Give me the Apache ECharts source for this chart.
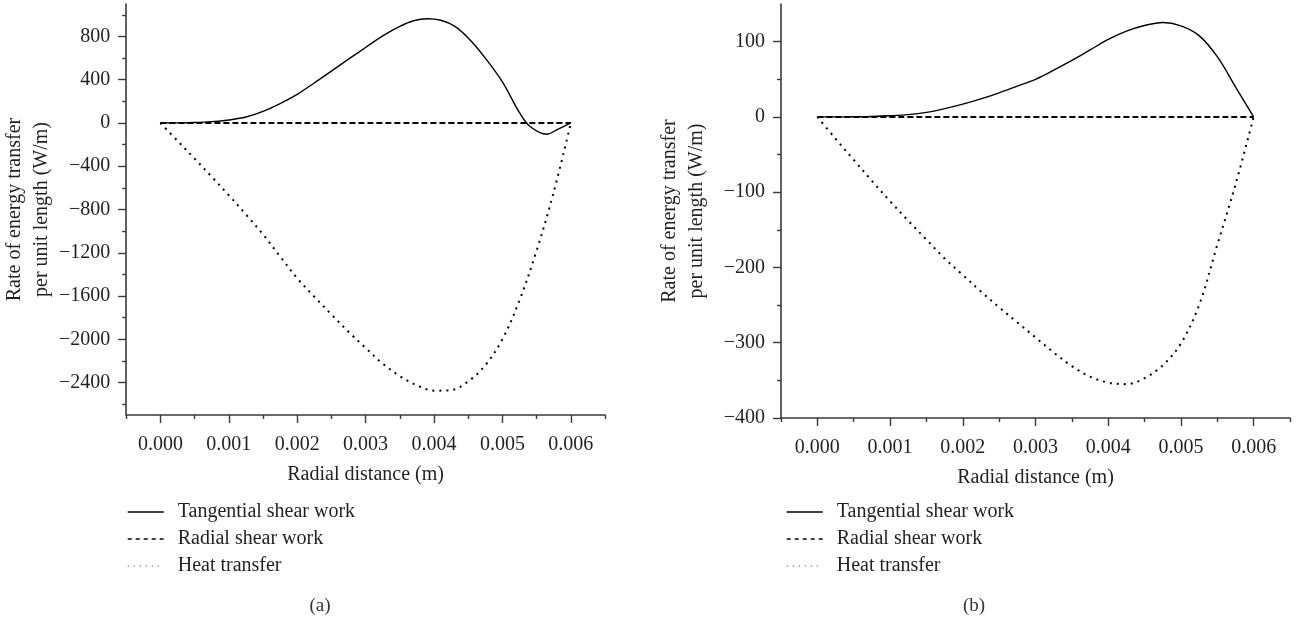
<!DOCTYPE html>
<html>
<head>
<meta charset="utf-8">
<script src="https://cdn.jsdelivr.net/npm/echarts@6/dist/echarts.min.js"></script>
<style>
html,body{margin:0;padding:0;background:#fff;}
#chart{width:1296px;height:620px;}
</style>
</head>
<body>
<div id="chart"></div>
<script>
// ---- data ----
const seriesNames = ['Tangential shear work', 'Radial shear work', 'Heat transfer'];
const xTicks = [0, 0.001, 0.002, 0.003, 0.004, 0.005, 0.006];
const xMinorTicks = [-0.0005, 0.0005, 0.0015, 0.0025, 0.0035, 0.0045, 0.0055, 0.0065];
const yTicksA = [-2400, -2000, -1600, -1200, -800, -400, 0, 400, 800];
const yMinorTicksA = [-2600, -2200, -1800, -1400, -1000, -600, -200, 200, 600, 1000];
const yTicksB = [-400, -300, -200, -100, 0, 100];
const yMinorTicksB = [-350, -250, -150, -50, 50];

// radial positions (m)
const xs = [0, 0.00025, 0.0005, 0.00075, 0.001, 0.00125, 0.0015, 0.00175, 0.002, 0.00225, 0.0025, 0.00275,
            0.003, 0.00325, 0.0035, 0.00375, 0.004, 0.00425, 0.0045, 0.00475, 0.005, 0.00525, 0.0055, 0.00575, 0.006];

// (a)
const tangAx = [0, 0.00025, 0.0005, 0.00075, 0.001, 0.00125, 0.0015, 0.00175, 0.002, 0.00225, 0.0025, 0.00275,
                0.003, 0.00325, 0.0035, 0.0037, 0.0039, 0.0041, 0.0043, 0.0045, 0.00475, 0.005, 0.00525, 0.0054, 0.00565, 0.0058, 0.006];
const tangAy = [0, 1, 4, 12, 28, 55, 108, 180, 265, 370, 480, 590,
                698, 805, 893, 945, 964, 950, 895, 785, 600, 380, 95, -30, -104, -62, 0];
const radAy  = [0, 0, 0, 0, 0, 0, 0, 0, 0, 0, 0, 0, 0, 0, 0, 0, 0, 0, 0, 0, 0, 0, 0, 0, 0];
const heatAy = [0, -165, -330, -497, -668, -845, -1030, -1235, -1435, -1606, -1770, -1930,
                -2080, -2225, -2340, -2425, -2475, -2470, -2390, -2240, -2000, -1640, -1180, -640, 0];

// (b)
const tangBy = [0, 0, 0.2, 0.6, 1.5, 3, 6, 11, 17, 24, 32, 41,
                50, 62, 75, 89, 103, 114, 121.5, 125.5, 121, 108, 80, 40, 0];
const radBy  = [0, 0, 0, 0, 0, 0, 0, 0, 0, 0, 0, 0, 0, 0, 0, 0, 0, 0, 0, 0, 0, 0, 0, 0, 0];
const heatBy = [0, -29, -57, -85, -112, -138, -163, -188, -210, -232, -253, -273,
                -293, -313, -331, -345, -353, -355, -347, -330, -301, -250, -170, -90, 0];

const pair = (xArr, yArr) => xArr.map((x, i) => [x, yArr[i]]);

// ---- styles ----
const FONT = 'Liberation Serif';
const FS = 20;
const TXT = '#231f20';
const AX = '#3a3a3a';
const fmtY = v => (v < 0 ? '\u2212' : '') + Math.abs(v);
const fmtX = v => Number(v).toFixed(3);

function xAxes(grid) {
  return [
    { type:'value', gridIndex:grid, position:'bottom', min:-0.0005, max:0.0065,
      name:'Radial distance (m)', nameLocation:'middle', nameGap:50,
      nameTextStyle:{fontFamily:FONT, fontSize:FS, color:TXT},
      axisLine:{show:true, onZero:false, lineStyle:{color:AX, width:1.6}},
      axisTick:{show:true, length:8, customValues:xTicks, lineStyle:{color:AX, width:1.4}},
      axisLabel:{customValues:xTicks, formatter:fmtX, margin:20, fontFamily:FONT, fontSize:FS, color:TXT},
      splitLine:{show:false} },
    { type:'value', gridIndex:grid, position:'bottom', min:-0.0005, max:0.0065,
      axisLine:{show:false, onZero:false},
      axisTick:{show:true, length:4, customValues:xMinorTicks, lineStyle:{color:AX, width:1.4}},
      axisLabel:{show:false}, splitLine:{show:false} }
  ];
}
function yAxes(grid, min, max, ticks, minor, gap) {
  return [
    { type:'value', gridIndex:grid, position:'left', min:min, max:max,
      name:'Rate of energy transfer\nper unit length (W/m)', nameLocation:'middle', nameGap:gap, nameRotate:90,
      nameTextStyle:{fontFamily:FONT, fontSize:FS, color:TXT, lineHeight:27},
      axisLine:{show:true, onZero:false, lineStyle:{color:AX, width:1.6}},
      axisTick:{show:true, length:8, customValues:ticks, lineStyle:{color:AX, width:1.4}},
      axisLabel:{customValues:ticks, formatter:fmtY, margin:16, fontFamily:FONT, fontSize:FS, color:TXT},
      splitLine:{show:false} },
    { type:'value', gridIndex:grid, position:'left', min:min, max:max,
      axisLine:{show:false, onZero:false},
      axisTick:{show:true, length:4, customValues:minor, lineStyle:{color:AX, width:1.4}},
      axisLabel:{show:false}, splitLine:{show:false} }
  ];
}

const solid = {color:'#000', width:1.4, type:'solid'};
const dashed = {color:'#000', width:2, type:[6,3]};
const dotted = {color:'#000', width:2, type:[2,5], cap:'butt'};

function mkSeries(name, data, xi, yi, ls) {
  return { type:'line', name:name, data:data, xAxisIndex:xi, yAxisIndex:yi,
    symbol:'none', showSymbol:false, smooth:0.35, lineStyle:ls, itemStyle:{color:'#000'},
    silent:true, animation:false, z:3 };
}

const hideSym = {color:'rgba(0,0,0,0)', borderWidth:0, opacity:0};
function legend(left) {
  return { left:left, top:502, padding:0, orient:'vertical', itemWidth:36, itemHeight:12, itemGap:7,
    selectedMode:false,
    textStyle:{fontFamily:FONT, fontSize:FS, color:TXT, lineHeight:20, padding:[0,0,0,9]},
    data:[
      {name:seriesNames[0], itemStyle:hideSym, lineStyle:{color:'#000', width:1.4, type:'solid'}},
      {name:seriesNames[1], itemStyle:hideSym, lineStyle:{color:'#000', width:1.3, type:[4,4]}},
      {name:seriesNames[2], itemStyle:hideSym, lineStyle:{color:'#555', width:1.2, type:[1.2,4.8]}}
    ] };
}

const chart = echarts.init(document.getElementById('chart'), null, {renderer:'canvas'});
chart.setOption({
  animation:false,
  backgroundColor:'#fff',
  title:[
    {text:'(a)', left:315, top:592, textAlign:'center', textStyle:{fontFamily:FONT, fontSize:19, fontWeight:'normal', color:'#333'}},
    {text:'(b)', left:969, top:592, textAlign:'center', textStyle:{fontFamily:FONT, fontSize:19, fontWeight:'normal', color:'#333'}}
  ],
  grid:[
    {left:125, top:4, width:480, height:411},
    {left:781, top:4, width:509, height:414}
  ],
  xAxis:[...xAxes(0), ...xAxes(1)],
  yAxis:[...yAxes(0, -2700, 1100, yTicksA, yMinorTicksA, 63), ...yAxes(1, -400, 150, yTicksB, yMinorTicksB, 71)],
  legend:[legend(127), legend(786)],
  series:[
    mkSeries(seriesNames[0], pair(tangAx, tangAy), 0, 0, solid),
    mkSeries(seriesNames[1], pair(xs, radAy), 0, 0, dashed),
    mkSeries(seriesNames[2], pair(xs, heatAy), 0, 0, dotted),
    mkSeries(seriesNames[0], pair(xs, tangBy), 2, 2, solid),
    mkSeries(seriesNames[1], pair(xs, radBy), 2, 2, dashed),
    mkSeries(seriesNames[2], pair(xs, heatBy), 2, 2, dotted)
  ]
});
</script>
</body>
</html>
